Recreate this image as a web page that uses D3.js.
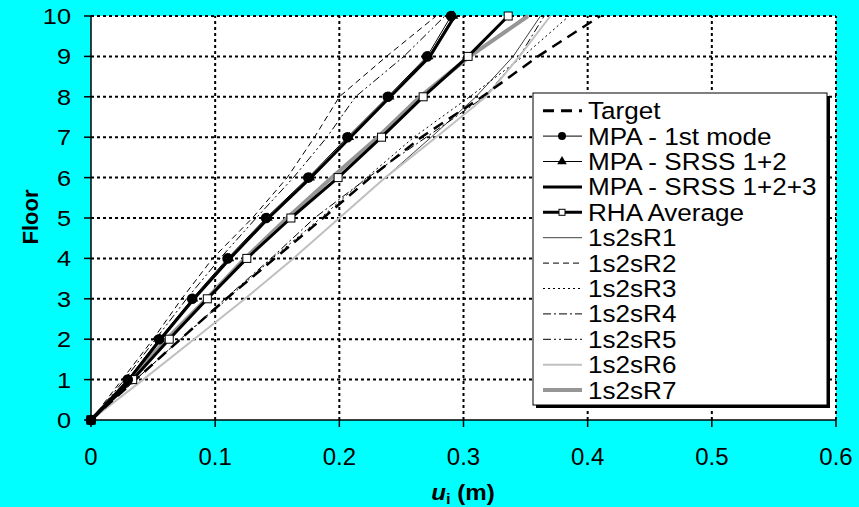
<!DOCTYPE html>
<html><head><meta charset="utf-8">
<script src="https://cdn.jsdelivr.net/npm/d3@7/dist/d3.min.js"></script>
<style>html,body{margin:0;padding:0;background:#00FFFF;}svg{display:block;}</style>
</head><body>
<svg id="c" width="859" height="507"></svg>
<script>
const floors = [0,1,2,3,4,5,6,7,8,9,10];
const xTicks = [0,0.1,0.2,0.3,0.4,0.5,0.6];
const yTicks = [0,1,2,3,4,5,6,7,8,9,10];
const target   = [0,0.036,0.072,0.109,0.148,0.187,0.225,0.266,0.315,0.36,0.41];
const mpa1     = [0,0.0296,0.0548,0.0815,0.110,0.141,0.175,0.2065,0.239,0.2707,0.290];
const mpa12    = [0,0.0300,0.0555,0.0825,0.1115,0.1425,0.1765,0.208,0.2405,0.272,0.292];
const mpa123   = [0,0.0305,0.0560,0.0830,0.1120,0.1430,0.1770,0.209,0.2410,0.273,0.293];
const rhaAvg   = [0,0.0336,0.063,0.0937,0.1255,0.161,0.199,0.234,0.2675,0.3037,0.336];
const r1       = [0,0.042,0.083,0.124,0.163,0.200,0.237,0.274,0.31,0.34,0.362];
const r2       = [0,0.025,0.050,0.073,0.098,0.130,0.158,0.180,0.200,0.238,0.278];
const r3       = [0,0.036,0.072,0.110,0.146,0.185,0.222,0.260,0.305,0.348,0.385];
const r4       = [0,0.036,0.072,0.108,0.145,0.180,0.223,0.270,0.317,0.345,0.365];
const r5       = [0,0.027,0.052,0.077,0.104,0.133,0.163,0.190,0.213,0.252,0.285];
const r6       = [0,0.042,0.083,0.124,0.163,0.200,0.237,0.278,0.318,0.345,0.370];
const r7       = [0,0.032,0.061,0.093,0.124,0.158,0.194,0.231,0.265,0.305,0.352];
const legendLabels = ["Target","MPA - 1st mode","MPA - SRSS 1+2","MPA - SRSS 1+2+3","RHA Average","1s2sR1","1s2sR2","1s2sR3","1s2sR4","1s2sR5","1s2sR6","1s2sR7"];

const svg = d3.select("#c");
const x = d3.scaleLinear().domain([0,0.6]).range([91,836]);
const y = d3.scaleLinear().domain([0,10]).range([420,16]);
const font = "'Liberation Sans', Arial, sans-serif";

function stext(px, py, sx, size, anchor, str, parent){
  return (parent||svg).append("text").attr("transform",`translate(${px},${py}) scale(${sx},1)`)
    .attr("text-anchor",anchor).attr("font-family",font).attr("font-size",size).text(str);
}

// plot bg
svg.append("rect").attr("x",x(0)).attr("y",y(10)).attr("width",x(0.6)-x(0)).attr("height",y(0)-y(10)).attr("fill","#fff");

// grid
const g = svg.append("g");
yTicks.filter(d=>d>0).forEach(d=>{
  g.append("line").attr("x1",x(0)).attr("x2",x(0.6)).attr("y1",y(d)).attr("y2",y(d))
   .attr("stroke","#000").attr("stroke-width",2).attr("stroke-dasharray","3,3");
});
xTicks.filter(d=>d>0).forEach(d=>{
  g.append("line").attr("x1",x(d)).attr("x2",x(d)).attr("y1",y(0)).attr("y2",y(10))
   .attr("stroke","#000").attr("stroke-width",2).attr("stroke-dasharray","3,3");
});

// series
const series = [
  {key:"1s2sR1", v:r1, stroke:"#404040", w:1, dash:null},
  {key:"1s2sR2", v:r2, stroke:"#000", w:1, dash:"6,4"},
  {key:"1s2sR3", v:r3, stroke:"#000", w:1, dash:"2,3"},
  {key:"1s2sR4", v:r4, stroke:"#000", w:1, dash:"8,3,2,3"},
  {key:"1s2sR5", v:r5, stroke:"#000", w:1, dash:"8,3,2,3,2,3"},
  {key:"1s2sR6", v:r6, stroke:"#c0c0c0", w:2, dash:null},
  {key:"1s2sR7", v:r7, stroke:"#969696", w:4, dash:null},
  {key:"Target", v:target, stroke:"#000", w:2.5, dash:"11,7"},
  {key:"MPA - SRSS 1+2+3", v:mpa123, stroke:"#000", w:3, dash:null},
  {key:"MPA - 1st mode", v:mpa1, stroke:"#000", w:1, dash:null},
  {key:"MPA - SRSS 1+2", v:mpa12, stroke:"#000", w:1, dash:null},
  {key:"RHA Average", v:rhaAvg, stroke:"#000", w:3, dash:null}
];
const line = d3.line().x(d=>x(d[0])).y(d=>y(d[1]));
series.forEach(s=>{
  svg.append("path").datum(s.v.map((u,i)=>[u,floors[i]])).attr("d",line)
    .attr("fill","none").attr("stroke",s.stroke).attr("stroke-width",s.w)
    .attr("stroke-dasharray",s.dash).attr("stroke-linejoin","round");
});
// markers
const tri = d3.symbol().type(d3.symbolTriangle).size(40);
svg.append("g").selectAll("path").data(mpa12.map((u,i)=>[u,floors[i]])).join("path")
  .attr("d",tri).attr("transform",d=>`translate(${x(d[0])},${y(d[1])})`).attr("fill","#000");
svg.append("g").selectAll("rect").data(rhaAvg.map((u,i)=>[u,floors[i]])).join("rect")
  .attr("x",d=>x(d[0])-4).attr("y",d=>y(d[1])-4).attr("width",8).attr("height",8)
  .attr("fill","#fff").attr("stroke","#000").attr("stroke-width",1);
svg.append("g").selectAll("circle").data(mpa1.map((u,i)=>[u,floors[i]])).join("circle")
  .attr("cx",d=>x(d[0])).attr("cy",d=>y(d[1])).attr("r",5.3).attr("fill","#000");
svg.append("rect").attr("x",x(0)-4.5).attr("y",y(0)-4.5).attr("width",9).attr("height",9).attr("fill","#000");

// axes lines
svg.append("line").attr("x1",x(0)).attr("x2",x(0)).attr("y1",y(10)).attr("y2",y(0)).attr("stroke","#000").attr("stroke-width",1.5);
svg.append("line").attr("x1",x(0)).attr("x2",x(0.6)).attr("y1",y(0)).attr("y2",y(0)).attr("stroke","#000").attr("stroke-width",1.5);
yTicks.forEach(d=>{
  svg.append("line").attr("x1",x(0)-7).attr("x2",x(0)).attr("y1",y(d)).attr("y2",y(d)).attr("stroke","#000").attr("stroke-width",1.5);
  stext(71, y(d)+8, 1.15, 22, "end", d);
});
xTicks.forEach(d=>{
  svg.append("line").attr("x1",x(d)).attr("x2",x(d)).attr("y1",y(0)).attr("y2",y(0)+7).attr("stroke","#000").attr("stroke-width",1.5);
  stext(x(d), 465, 1.0, 24, "middle", d);
});

// titles
svg.append("text").attr("transform","translate(38,217) rotate(-90)").attr("text-anchor","middle")
  .attr("font-family",font).attr("font-size",22).attr("font-weight","bold").text("Floor");
const xt = svg.append("text").attr("transform","translate(463,500) scale(1.1,1)").attr("text-anchor","middle")
  .attr("font-family",font).attr("font-size",22).attr("font-weight","bold");
xt.append("tspan").attr("font-style","italic").text("u");
xt.append("tspan").attr("font-size",15).attr("dy",4).text("i");
xt.append("tspan").attr("dy",-4).text(" (m)");

// legend
const lx=533, ly=93, lw=294, lh=312;
svg.append("rect").attr("x",lx+3).attr("y",ly+3).attr("width",lw).attr("height",lh).attr("fill","#000");
svg.append("rect").attr("x",lx).attr("y",ly).attr("width",lw).attr("height",lh).attr("fill","#fff").attr("stroke","#000").attr("stroke-width",1);
const legStyles = {
  "Target":{stroke:"#000",w:3,dash:"11,7"},
  "MPA - 1st mode":{stroke:"#000",w:1,dash:null,m:"circle"},
  "MPA - SRSS 1+2":{stroke:"#000",w:1,dash:null,m:"tri"},
  "MPA - SRSS 1+2+3":{stroke:"#000",w:3,dash:null},
  "RHA Average":{stroke:"#000",w:3,dash:null,m:"sq"},
  "1s2sR1":{stroke:"#404040",w:1,dash:null},
  "1s2sR2":{stroke:"#000",w:1,dash:"6,4"},
  "1s2sR3":{stroke:"#000",w:1,dash:"2,3"},
  "1s2sR4":{stroke:"#000",w:1,dash:"8,3,2,3"},
  "1s2sR5":{stroke:"#000",w:1,dash:"8,3,2,3,2,3"},
  "1s2sR6":{stroke:"#c0c0c0",w:2,dash:null},
  "1s2sR7":{stroke:"#969696",w:4,dash:null}
};
legendLabels.forEach((lab,i)=>{
  const cy = 110.7 + i*25.4;
  const st = legStyles[lab];
  svg.append("line").attr("x1",543).attr("x2",582).attr("y1",cy).attr("y2",cy)
    .attr("stroke",st.stroke).attr("stroke-width",st.w).attr("stroke-dasharray",st.dash);
  if(st.m==="circle") svg.append("circle").attr("cx",562).attr("cy",cy).attr("r",4).attr("fill","#000");
  if(st.m==="tri") svg.append("path").attr("d",tri).attr("transform",`translate(562,${cy})`).attr("fill","#000");
  if(st.m==="sq") svg.append("rect").attr("x",559).attr("y",cy-3).attr("width",6).attr("height",6).attr("fill","#fff").attr("stroke","#000");
  stext(588, cy+8.5, 1.11, 23.5, "start", lab);
});
</script>
</body></html>
